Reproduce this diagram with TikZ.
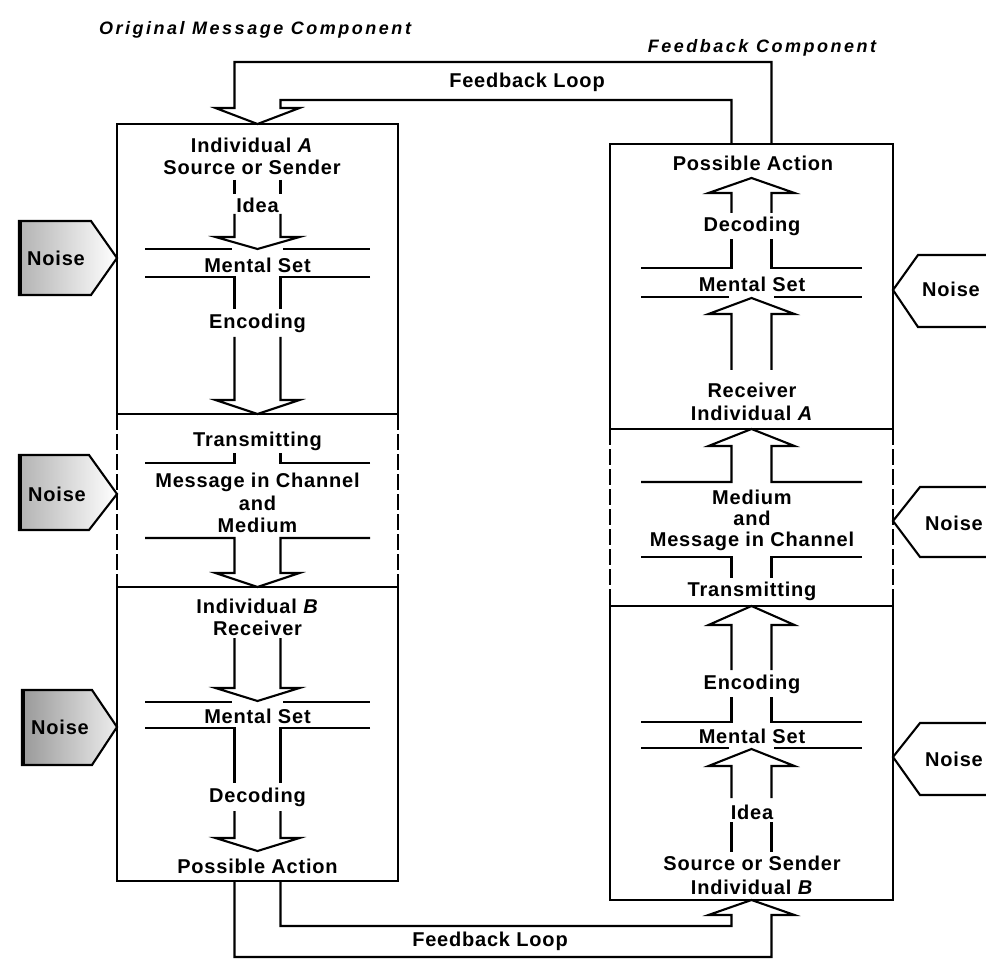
\documentclass[tikz,border=0pt]{standalone}
\usepackage{fontspec}
\setmainfont{Liberation Sans}
\begin{document}
\begin{tikzpicture}[x=1pt,y=-1pt,
  ln/.style={line width=2.1pt, line join=miter, line cap=butt},
  dsh/.style={ln, dash pattern=on 16pt off 4pt},
  box/.style={ln, draw, rectangle, inner sep=0pt, outer sep=0pt},
  lbl/.style={font=\fontsize{20}{22}\selectfont\bfseries\addfontfeature{LetterSpace=4}, inner sep=0pt},
  hdr/.style={font=\fontsize{18}{20}\selectfont\bfseries\itshape\addfontfeature{LetterSpace=14}, inner sep=0pt},
  noisefill/.style={left color=gray!60, right color=white},
  noisedark/.style={left color=gray!80, right color=gray!15}]
\useasboundingbox (0,0) rectangle (986,968);

% ---------- headings ----------
\node[hdr] (hOrig) at (255,30) {Original Message Component};
\node[hdr] (hFeed) at (762,48) {Feedback Component};

% ---------- the four solid boxes ----------
\node[box, minimum width=281pt, minimum height=290pt] (la) at (257.5,269) {};
\node[box, minimum width=281pt, minimum height=294pt] (lb) at (257.5,734) {};
\node[box, minimum width=283pt, minimum height=285pt] (ra) at (751.5,286.5) {};
\node[box, minimum width=283pt, minimum height=294pt] (rb) at (751.5,753) {};

% dashed sides of the channel sections
\draw[dsh] (la.south west) -- (lb.north west);
\draw[dsh] (la.south east) -- (lb.north east);
\draw[dsh] (ra.south west) -- (rb.north west);
\draw[dsh] (ra.south east) -- (rb.north east);

% ---------- feedback loops ----------
\draw[ln] ([xshift=20pt]ra.north) -- (771.5,62) -- (234.5,62) -- (234.5,108)
  -- (215.5,108) -- (la.north) -- (299.5,108) -- (280.5,108) -- (280.5,100)
  -- (731.5,100) -- ([xshift=-20pt]ra.north);
\node[lbl] (fbTop) at (527,82) {Feedback Loop};

\draw[ln] ([xshift=-23pt]lb.south) -- (234.5,957) -- (771.5,957) -- (771.5,915)
  -- (794.5,915) -- (rb.south) -- (708.5,915) -- (731.5,915) -- (731.5,926)
  -- (280.5,926) -- ([xshift=23pt]lb.south);
\node[lbl] (fbBot) at (490,941) {Feedback Loop};

% ---------- original message: individual A ----------
\node[lbl] (aInd) at (252,145) {Individual \textit{A}};
\node[lbl] (aSrc) at (252,167) {Source or Sender};
\draw[ln] (234.5,180) -- (234.5,194) (280.5,180) -- (280.5,194);
\node[lbl] (aIdea) at (257.5,205) {Idea};
\draw[ln] (234.5,214) -- (234.5,237) -- (215.5,237) -- (257.5,249) -- (299.5,237) -- (280.5,237) -- (280.5,214);
\draw[ln] (145,249) -- (232,249) (283,249) -- (370,249);
\node[lbl] (aSet) at (257.5,265) {Mental Set};
\draw[ln] (145,277) -| (234.5,309);
\draw[ln] (370,277) -| (280.5,309);
\node[lbl] (aEnc) at (257.5,323) {Encoding};
\draw[ln] (234.5,337) -- (234.5,400) -- (215.5,400) -- (la.south) -- (299.5,400) -- (280.5,400) -- (280.5,337);

% ---------- original message: channel ----------
\node[lbl] (cTr) at (257.5,441) {Transmitting};
\draw[ln] (145,463) -| (234.5,453);
\draw[ln] (370,463) -| (280.5,453);
\node[lbl] (cMsg) at (257.5,482) {Message in Channel};
\node[lbl] (cAnd) at (257.5,503) {and};
\node[lbl] (cMed) at (257.5,525) {Medium};
\draw[ln] (145,538) -| (234.5,573) -- (215.5,573) -- (lb.north) -- (299.5,573) -- (280.5,573) |- (370,538);

% ---------- original message: individual B ----------
\node[lbl] (bInd) at (257.5,606) {Individual \textit{B}};
\node[lbl] (bRec) at (257.5,628) {Receiver};
\draw[ln] (234.5,638) -- (234.5,688) -- (215.5,688) -- (257.5,701) -- (299.5,688) -- (280.5,688) -- (280.5,638);
\draw[ln] (145,702) -- (232,702) (283,702) -- (370,702);
\node[lbl] (bSet) at (257.5,716) {Mental Set};
\draw[ln] (145,728) -| (234.5,783);
\draw[ln] (370,728) -| (280.5,783);
\node[lbl] (bDec) at (257.5,797) {Decoding};
\draw[ln] (234.5,811) -- (234.5,838) -- (215.5,838) -- (257.5,851) -- (299.5,838) -- (280.5,838) -- (280.5,811);
\node[lbl] (bAct) at (257.5,866) {Possible Action};

% ---------- feedback: receiver A ----------
\node[lbl] (fAct) at (753,163) {Possible Action};
\draw[ln] (731.5,213) -- (731.5,193) -- (708.5,193) -- (751.5,178) -- (794.5,193) -- (771.5,193) -- (771.5,213);
\node[lbl] (fDec) at (752,226) {Decoding};
\draw[ln] (641,268) -| (731.5,239);
\draw[ln] (862,268) -| (771.5,239);
\node[lbl] (fSet) at (752,284) {Mental Set};
\draw[ln] (641,297) -- (729,297) (774,297) -- (862,297);
\draw[ln] (731.5,370) -- (731.5,314) -- (708.5,314) -- (751.5,298) -- (794.5,314) -- (771.5,314) -- (771.5,370);
\node[lbl] (fRec) at (752,390) {Receiver};
\node[lbl] (fInd) at (752,413) {Individual \textit{A}};

% ---------- feedback: channel ----------
\draw[ln] (641,482) -| (731.5,446) -- (708.5,446) -- (ra.south) -- (794.5,446) -- (771.5,446) |- (862,482);
\node[lbl] (gMed) at (752,497) {Medium};
\node[lbl] (gAnd) at (752,518) {and};
\node[lbl] (gMsg) at (752,541) {Message in Channel};
\draw[ln] (641,557) -| (731.5,578);
\draw[ln] (862,557) -| (771.5,578);
\node[lbl] (gTr) at (752,591) {Transmitting};

% ---------- feedback: source B ----------
\draw[ln] (731.5,670) -- (731.5,625) -- (708.5,625) -- (rb.north) -- (794.5,625) -- (771.5,625) -- (771.5,670);
\node[lbl] (hEnc) at (752,684) {Encoding};
\draw[ln] (641,722) -| (731.5,697);
\draw[ln] (862,722) -| (771.5,697);
\node[lbl] (hSet) at (752,736) {Mental Set};
\draw[ln] (641,748) -- (729,748) (774,748) -- (862,748);
\draw[ln] (731.5,798) -- (731.5,766) -- (708.5,766) -- (751.5,749) -- (794.5,766) -- (771.5,766) -- (771.5,798);
\node[lbl] (hIdea) at (752,812) {Idea};
\draw[ln] (731.5,822) -- (731.5,852) (771.5,822) -- (771.5,852);
\node[lbl] (hSrc) at (752,863) {Source or Sender};
\node[lbl] (hInd) at (752,887) {Individual \textit{B}};

% ---------- noise tags, left ----------
\shade[noisefill] (19,221) -- (91,221) -- (117,258) -- (91,295) -- (19,295) -- cycle;
\draw[ln] (19,221) -- (91,221) -- (117,258) -- (91,295) -- (19,295) -- cycle;
\draw[line width=4pt] (20,221) -- (20,295);
\node[lbl] (n1) at (56,258) {Noise};

\shade[noisefill] (19,455) -- (89,455) -- (117,494) -- (89,530) -- (19,530) -- cycle;
\draw[ln] (19,455) -- (89,455) -- (117,494) -- (89,530) -- (19,530) -- cycle;
\draw[line width=4pt] (20,455) -- (20,530);
\node[lbl] (n2) at (57,494) {Noise};

\shade[noisedark] (22,690) -- (92,690) -- (117,727) -- (92,765) -- (22,765) -- cycle;
\draw[ln] (22,690) -- (92,690) -- (117,727) -- (92,765) -- (22,765) -- cycle;
\draw[line width=4pt] (23,690) -- (23,765);
\node[lbl] (n3) at (60,727) {Noise};

% ---------- noise tags, right ----------
\draw[ln] (986,255) -- (918,255) -- (893,290) -- (918,327) -- (986,327);
\node[lbl] (n4) at (951,289) {Noise};
\draw[ln] (986,487) -- (920,487) -- (893,521) -- (920,557) -- (986,557);
\node[lbl] (n5) at (954,523) {Noise};
\draw[ln] (986,723) -- (920,723) -- (893,757) -- (920,795) -- (986,795);
\node[lbl] (n6) at (954,759) {Noise};
\end{tikzpicture}
\end{document}
